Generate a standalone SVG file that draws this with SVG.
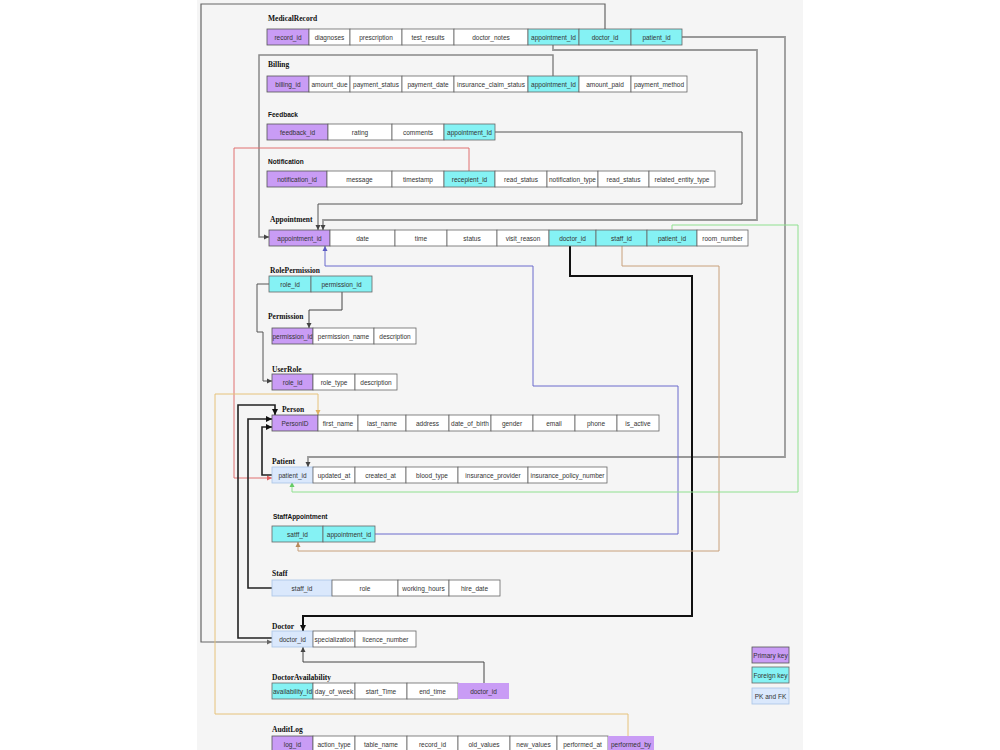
<svg xmlns="http://www.w3.org/2000/svg" width="1000" height="750" viewBox="0 0 1000 750">
<style>
.t{font-family:"Liberation Serif","Times New Roman",serif;font-weight:bold;font-size:7.5px;fill:#111}
.ts{font-family:"Liberation Sans",Arial,sans-serif;font-weight:bold;font-size:6.5px;fill:#111}
.c{fill:#fff;stroke:#666;stroke-width:0.8}
.pk{fill:#c99cf5;stroke:#555;stroke-width:0.8}
.fk{fill:#85f2f4;stroke:#666;stroke-width:0.8}
.pf{fill:#dae8fc;stroke:#a9c4e6;stroke-width:0.8}
.x{font-family:"Liberation Sans",Arial,sans-serif;font-size:6.5px;fill:#333;text-anchor:middle}
.ln{fill:none}
</style>
<defs>
<marker id="aDark" markerUnits="userSpaceOnUse" markerWidth="6" markerHeight="6" refX="5" refY="3" orient="auto"><path d="M0,0.5 L5,3 L0,5.5 z" fill="#444"/></marker>
<marker id="aGray" markerUnits="userSpaceOnUse" markerWidth="6" markerHeight="6" refX="5" refY="3" orient="auto"><path d="M0,0.5 L5,3 L0,5.5 z" fill="#666"/></marker>
<marker id="aBlack" markerUnits="userSpaceOnUse" markerWidth="7" markerHeight="7" refX="6" refY="3.5" orient="auto"><path d="M0,0.5 L6,3.5 L0,6.5 z" fill="#111"/></marker>
<marker id="aRed" markerUnits="userSpaceOnUse" markerWidth="6" markerHeight="6" refX="5" refY="3" orient="auto"><path d="M0,0.5 L5,3 L0,5.5 z" fill="#e06060"/></marker>
<marker id="aBlue" markerUnits="userSpaceOnUse" markerWidth="6" markerHeight="6" refX="5" refY="3" orient="auto"><path d="M0,0.5 L5,3 L0,5.5 z" fill="#5a5ac0"/></marker>
<marker id="aBrown" markerUnits="userSpaceOnUse" markerWidth="6" markerHeight="6" refX="5" refY="3" orient="auto"><path d="M0,0.5 L5,3 L0,5.5 z" fill="#b8885a"/></marker>
<marker id="aGreen" markerUnits="userSpaceOnUse" markerWidth="6" markerHeight="6" refX="5" refY="3" orient="auto"><path d="M0,0.5 L5,3 L0,5.5 z" fill="#66cc66"/></marker>
<marker id="aOrange" markerUnits="userSpaceOnUse" markerWidth="6" markerHeight="6" refX="5" refY="3" orient="auto"><path d="M0,0.5 L5,3 L0,5.5 z" fill="#e0b060"/></marker>
</defs>
<rect x="0" y="0" width="1000" height="750" fill="#ffffff"/>
<rect x="197" y="0" width="606" height="750" fill="#f5f5f5"/>

<g id="connectors">
<path class="ln" d="M605,29 V4 H201 V642 H272" stroke="#666" stroke-width="1.2" marker-end="url(#aGray)"/>
<path class="ln" d="M682,37 H785 V457 H308 V467" stroke="#999" stroke-width="1.8" marker-end="url(#aDark)"/>
<path class="ln" d="M553,45 V50 H757 V220 H323 V230" stroke="#999" stroke-width="1.8" marker-end="url(#aDark)"/>
<path class="ln" d="M553,76 V55 H259 V237 H269" stroke="#888" stroke-width="1.5" marker-end="url(#aDark)"/>
<path class="ln" d="M495,132 H742 V204 H318 V230" stroke="#555" stroke-width="1" marker-end="url(#aDark)"/>
<path class="ln" d="M469,171 V148 H234 V478 H272" stroke="#e07070" stroke-width="1" marker-end="url(#aRed)"/>
<path class="ln" d="M375,534 H678 V386 H533 V266 H325 V246" stroke="#6a6acc" stroke-width="1" marker-end="url(#aBlue)"/>
<path class="ln" d="M570,246 V276 H692 V616 H303 V631" stroke="#111" stroke-width="2" marker-end="url(#aBlack)"/>
<path class="ln" d="M622,246 V266 H719 V551 H298 V542" stroke="#c8a07a" stroke-width="1" marker-end="url(#aBrown)"/>
<path class="ln" d="M672,230 V225 H798 V492 H292 V482" stroke="#8fe08f" stroke-width="1" marker-end="url(#aGreen)"/>
<path class="ln" d="M628,736 V714 H215 V394 H318 V415" stroke="#e6c27a" stroke-width="1" marker-end="url(#aOrange)"/>
<path class="ln" d="M342,292 V310 H309 V328" stroke="#444" stroke-width="1" marker-end="url(#aDark)"/>
<path class="ln" d="M269,284 H257 V332 H263 V381 H272" stroke="#555" stroke-width="1" marker-end="url(#aDark)"/>
<path class="ln" d="M272,475 H262 V427 H272" stroke="#222" stroke-width="1.6" marker-end="url(#aBlack)"/>
<path class="ln" d="M272,588 H248 V419 H272" stroke="#222" stroke-width="1.6" marker-end="url(#aBlack)"/>
<path class="ln" d="M272,638 H238 V405 H275 V415" stroke="#222" stroke-width="1.6" marker-end="url(#aBlack)"/>
<path class="ln" d="M484,683 V662 H303 V647" stroke="#444" stroke-width="1" marker-end="url(#aDark)"/>
</g>

<g id="MedicalRecord">
<text class="t" x="268" y="21">MedicalRecord</text>
<rect class="pk" x="267" y="29" width="42" height="16"/><text class="x" x="288" y="39.5">record_id</text>
<rect class="c" x="309" y="29" width="41" height="16"/><text class="x" x="329.5" y="39.5">diagnoses</text>
<rect class="c" x="350" y="29" width="52" height="16"/><text class="x" x="376" y="39.5">prescription</text>
<rect class="c" x="402" y="29" width="52" height="16"/><text class="x" x="428" y="39.5">test_results</text>
<rect class="c" x="454" y="29" width="74" height="16"/><text class="x" x="491" y="39.5">doctor_notes</text>
<rect class="fk" x="528" y="29" width="51" height="16"/><text class="x" x="553.5" y="39.5">appointment_Id</text>
<rect class="fk" x="579" y="29" width="52" height="16"/><text class="x" x="605" y="39.5">doctor_id</text>
<rect class="fk" x="631" y="29" width="51" height="16"/><text class="x" x="656.5" y="39.5">patient_id</text>
</g>

<g id="Billing">
<text class="t" x="268" y="67">Billing</text>
<rect class="pk" x="267" y="76" width="42" height="16"/><text class="x" x="288" y="86.5">billing_id</text>
<rect class="c" x="309" y="76" width="41" height="16"/><text class="x" x="329.5" y="86.5">amount_due</text>
<rect class="c" x="350" y="76" width="52" height="16"/><text class="x" x="376" y="86.5">payment_status</text>
<rect class="c" x="402" y="76" width="52" height="16"/><text class="x" x="428" y="86.5">payment_date</text>
<rect class="c" x="454" y="76" width="74" height="16"/><text class="x" x="491" y="86.5">insurance_claim_status</text>
<rect class="fk" x="528" y="76" width="51" height="16"/><text class="x" x="553.5" y="86.5">appointment_Id</text>
<rect class="c" x="579" y="76" width="52" height="16"/><text class="x" x="605" y="86.5">amount_paid</text>
<rect class="c" x="631" y="76" width="56" height="16"/><text class="x" x="659" y="86.5">payment_method</text>
</g>

<g id="Feedback">
<text class="ts" x="268" y="117">Feedback</text>
<rect class="pk" x="267" y="124" width="61" height="16"/><text class="x" x="297.5" y="134.5">feedback_id</text>
<rect class="c" x="328" y="124" width="64" height="16"/><text class="x" x="360" y="134.5">rating</text>
<rect class="c" x="392" y="124" width="52" height="16"/><text class="x" x="418" y="134.5">comments</text>
<rect class="fk" x="444" y="124" width="51" height="16"/><text class="x" x="469.5" y="134.5">appointment_Id</text>
</g>

<g id="Notification">
<text class="ts" x="268" y="164">Notification</text>
<rect class="pk" x="267" y="171" width="60" height="16"/><text class="x" x="297" y="181.5">notification_id</text>
<rect class="c" x="327" y="171" width="65" height="16"/><text class="x" x="359.5" y="181.5">message</text>
<rect class="c" x="392" y="171" width="52" height="16"/><text class="x" x="418" y="181.5">timestamp</text>
<rect class="fk" x="444" y="171" width="51" height="16"/><text class="x" x="469.5" y="181.5">recepient_id</text>
<rect class="c" x="495" y="171" width="52" height="16"/><text class="x" x="521" y="181.5">read_status</text>
<rect class="c" x="547" y="171" width="51" height="16"/><text class="x" x="572.5" y="181.5">notification_type</text>
<rect class="c" x="598" y="171" width="51" height="16"/><text class="x" x="623.5" y="181.5">read_status</text>
<rect class="c" x="649" y="171" width="66" height="16"/><text class="x" x="682" y="181.5">related_entity_type</text>
</g>

<g id="Appointment">
<text class="t" x="270" y="222">Appointment</text>
<rect class="pk" x="269" y="230" width="61" height="16"/><text class="x" x="299.5" y="240.5">appointment_id</text>
<rect class="c" x="330" y="230" width="65" height="16"/><text class="x" x="362.5" y="240.5">date</text>
<rect class="c" x="395" y="230" width="52" height="16"/><text class="x" x="421" y="240.5">time</text>
<rect class="c" x="447" y="230" width="50" height="16"/><text class="x" x="472" y="240.5">status</text>
<rect class="c" x="497" y="230" width="52" height="16"/><text class="x" x="523" y="240.5">visit_reason</text>
<rect class="fk" x="549" y="230" width="47" height="16"/><text class="x" x="572.5" y="240.5">doctor_id</text>
<rect class="fk" x="596" y="230" width="51" height="16"/><text class="x" x="621.5" y="240.5">staff_id</text>
<rect class="fk" x="647" y="230" width="50" height="16"/><text class="x" x="672" y="240.5">patient_id</text>
<rect class="c" x="697" y="230" width="51" height="16"/><text class="x" x="722.5" y="240.5">room_number</text>
</g>

<g id="RolePermission">
<text class="t" x="270" y="273">RolePermission</text>
<rect class="fk" x="269" y="276" width="42" height="16"/><text class="x" x="290" y="286.5">role_id</text>
<rect class="fk" x="311" y="276" width="61" height="16"/><text class="x" x="341.5" y="286.5">permission_id</text>
</g>

<g id="Permission">
<text class="t" x="268" y="319">Permission</text>
<rect class="pk" x="272" y="328" width="41" height="16"/><text class="x" x="292.5" y="338.5">permission_id</text>
<rect class="c" x="313" y="328" width="61" height="16"/><text class="x" x="343.5" y="338.5">permission_name</text>
<rect class="c" x="374" y="328" width="42" height="16"/><text class="x" x="395" y="338.5">description</text>
</g>

<g id="UserRole">
<text class="t" x="272" y="372">UserRole</text>
<rect class="pk" x="272" y="374" width="41" height="16"/><text class="x" x="292.5" y="384.5">role_id</text>
<rect class="c" x="313" y="374" width="42" height="16"/><text class="x" x="334" y="384.5">role_type</text>
<rect class="c" x="355" y="374" width="42" height="16"/><text class="x" x="376" y="384.5">description</text>
</g>

<g id="Person">
<text class="t" x="282" y="412">Person</text>
<rect class="pk" x="272" y="415" width="46" height="16"/><text class="x" x="295" y="425.5">PersonID</text>
<rect class="c" x="318" y="415" width="40" height="16"/><text class="x" x="338" y="425.5">first_name</text>
<rect class="c" x="358" y="415" width="48" height="16"/><text class="x" x="382" y="425.5">last_name</text>
<rect class="c" x="406" y="415" width="43" height="16"/><text class="x" x="427.5" y="425.5">address</text>
<rect class="c" x="449" y="415" width="42" height="16"/><text class="x" x="470" y="425.5">date_of_birth</text>
<rect class="c" x="491" y="415" width="42" height="16"/><text class="x" x="512" y="425.5">gender</text>
<rect class="c" x="533" y="415" width="42" height="16"/><text class="x" x="554" y="425.5">email</text>
<rect class="c" x="575" y="415" width="42" height="16"/><text class="x" x="596" y="425.5">phone</text>
<rect class="c" x="617" y="415" width="42" height="16"/><text class="x" x="638" y="425.5">is_active</text>
</g>

<g id="Patient">
<text class="t" x="272" y="464">Patient</text>
<rect class="pf" x="272" y="467" width="41" height="16"/><text class="x" x="292.5" y="477.5">patient_id</text>
<rect class="c" x="313" y="467" width="42" height="16"/><text class="x" x="334" y="477.5">updated_at</text>
<rect class="c" x="355" y="467" width="51" height="16"/><text class="x" x="380.5" y="477.5">created_at</text>
<rect class="c" x="406" y="467" width="52" height="16"/><text class="x" x="432" y="477.5">blood_type</text>
<rect class="c" x="458" y="467" width="70" height="16"/><text class="x" x="493" y="477.5">insurance_provider</text>
<rect class="c" x="528" y="467" width="79" height="16"/><text class="x" x="567.5" y="477.5">insurance_policy_number</text>
</g>

<g id="StaffAppointment">
<text class="ts" x="273" y="519">StaffAppointment</text>
<rect class="fk" x="272" y="526" width="51" height="16"/><text class="x" x="297.5" y="536.5">satff_id</text>
<rect class="fk" x="323" y="526" width="52" height="16"/><text class="x" x="349" y="536.5">appointment_id</text>
</g>

<g id="Staff">
<text class="t" x="272" y="576">Staff</text>
<rect class="pf" x="272" y="580" width="60" height="16"/><text class="x" x="302" y="590.5">staff_id</text>
<rect class="c" x="332" y="580" width="66" height="16"/><text class="x" x="365" y="590.5">role</text>
<rect class="c" x="398" y="580" width="51" height="16"/><text class="x" x="423.5" y="590.5">working_hours</text>
<rect class="c" x="449" y="580" width="51" height="16"/><text class="x" x="474.5" y="590.5">hire_date</text>
</g>

<g id="Doctor">
<text class="t" x="272" y="629">Doctor</text>
<rect class="pf" x="272" y="631" width="41" height="16"/><text class="x" x="292.5" y="641.5">doctor_id</text>
<rect class="c" x="313" y="631" width="42" height="16"/><text class="x" x="334" y="641.5">specialization</text>
<rect class="c" x="355" y="631" width="61" height="16"/><text class="x" x="385.5" y="641.5">licence_number</text>
</g>

<g id="DoctorAvailability">
<text class="t" x="272" y="680">DoctorAvailability</text>
<rect class="fk" x="272" y="683" width="41" height="16"/><text class="x" x="292.5" y="693.5">availability_Id</text>
<rect class="c" x="313" y="683" width="42" height="16"/><text class="x" x="334" y="693.5">day_of_week</text>
<rect class="c" x="355" y="683" width="52" height="16"/><text class="x" x="381" y="693.5">start_Time</text>
<rect class="c" x="407" y="683" width="51" height="16"/><text class="x" x="432.5" y="693.5">end_time</text>
<rect x="458" y="683" width="51" height="16" fill="#c99cf5"/><text class="x" x="483.5" y="693.5">doctor_id</text>
</g>

<g id="AuditLog">
<text class="t" x="272" y="732">AuditLog</text>
<rect class="pk" x="272" y="736" width="41" height="16"/><text class="x" x="292.5" y="746.5">log_id</text>
<rect class="c" x="313" y="736" width="42" height="16"/><text class="x" x="334" y="746.5">action_type</text>
<rect class="c" x="355" y="736" width="52" height="16"/><text class="x" x="381" y="746.5">table_name</text>
<rect class="c" x="407" y="736" width="51" height="16"/><text class="x" x="432.5" y="746.5">record_id</text>
<rect class="c" x="458" y="736" width="52" height="16"/><text class="x" x="484" y="746.5">old_values</text>
<rect class="c" x="510" y="736" width="47" height="16"/><text class="x" x="533.5" y="746.5">new_values</text>
<rect class="c" x="557" y="736" width="51" height="16"/><text class="x" x="582.5" y="746.5">performed_at</text>
<rect x="608" y="736" width="46" height="16" fill="#c99cf5"/><text class="x" x="631" y="746.5">performed_by</text>
</g>

<g id="legend">
<rect class="pk" x="752" y="647" width="37" height="16"/><text class="x" x="770.5" y="657.5">Primary key</text>
<rect class="fk" x="752" y="667" width="37" height="16"/><text class="x" x="770.5" y="677.5">Foreign key</text>
<rect class="pf" x="752" y="688" width="37" height="16"/><text class="x" x="770.5" y="698.5">PK and FK</text>
</g>
</svg>
